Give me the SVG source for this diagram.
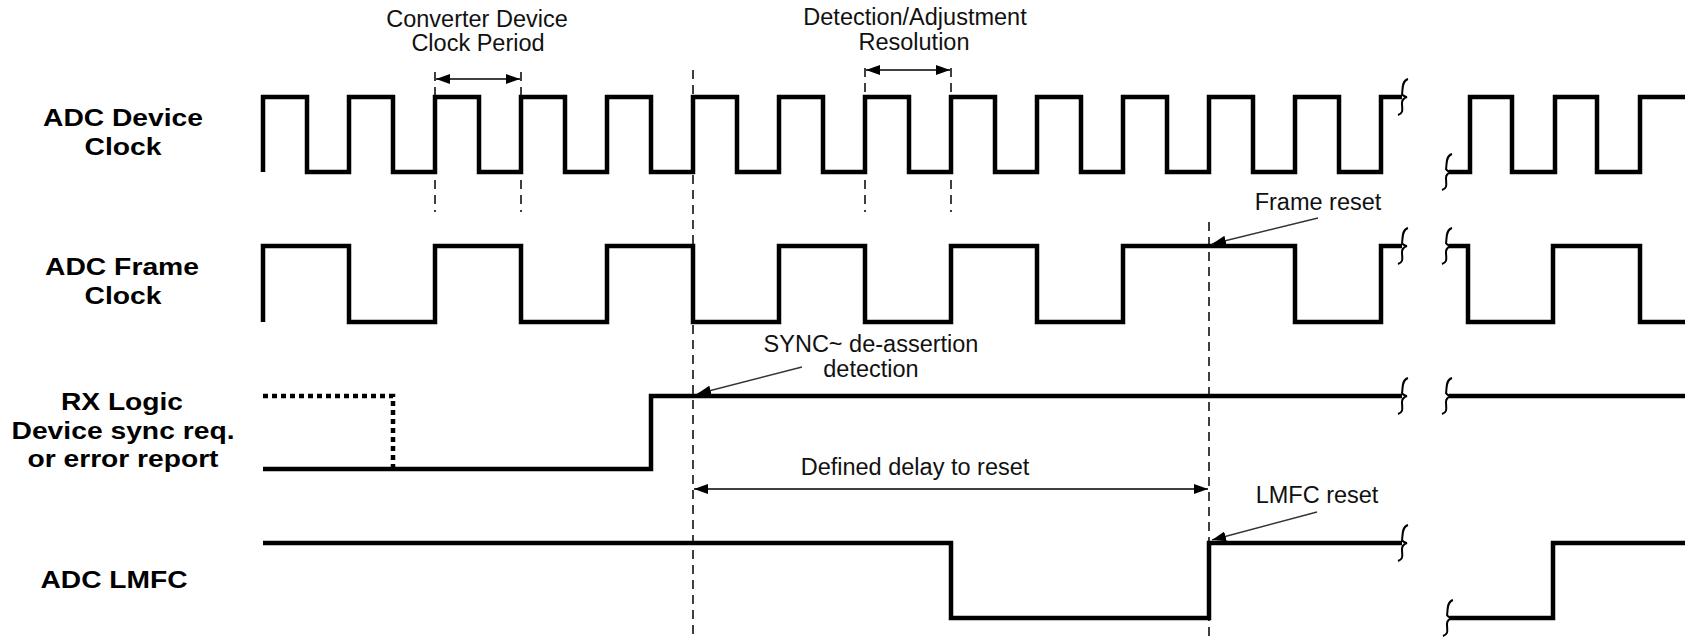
<svg xmlns="http://www.w3.org/2000/svg" width="1694" height="637" viewBox="0 0 1694 637">
<style>
.wave{fill:none;stroke:#000;stroke-width:4.5;stroke-linejoin:miter;stroke-linecap:butt}
.dot{fill:none;stroke:#000;stroke-width:4.5;stroke-dasharray:5 4}
.brk{fill:none;stroke:#000;stroke-width:2}
.dash{fill:none;stroke:#000;stroke-width:1.5;stroke-dasharray:9 6}
.dim{fill:none;stroke:#000;stroke-width:1.5}
.ptr{fill:none;stroke:#333;stroke-width:1.3}
.lbl{font-family:"Liberation Sans",Arial,sans-serif;font-weight:bold;font-size:23.5px;fill:#000;text-anchor:middle}
.ann{font-family:"Liberation Sans",Arial,sans-serif;font-size:23.5px;fill:#111;text-anchor:middle}
</style>
<defs>
<marker id="ah" markerUnits="userSpaceOnUse" markerWidth="14" markerHeight="10" refX="14" refY="5" orient="auto-start-reverse">
<path d="M0,0 L14,5 L0,10 z" fill="#000"/>
</marker>
<path id="brace" d="M5,-18 C-2,-16 0,-6 -1,-3 C0,-1 3,0 4,0 C1,1 -1,3 -1,6 C-1,12 1,16 -5,18"/>
</defs>

<g id="labels">
<g id="label-device-clock"><text class="lbl" x="123" y="126" textLength="160" lengthAdjust="spacingAndGlyphs">ADC Device</text><text class="lbl" x="123" y="155" textLength="77" lengthAdjust="spacingAndGlyphs">Clock</text></g>
<g id="label-frame-clock"><text class="lbl" x="122" y="275" textLength="154" lengthAdjust="spacingAndGlyphs">ADC Frame</text><text class="lbl" x="123" y="304" textLength="77" lengthAdjust="spacingAndGlyphs">Clock</text></g>
<g id="label-rx"><text class="lbl" x="122" y="410" textLength="122" lengthAdjust="spacingAndGlyphs">RX Logic</text><text class="lbl" x="123" y="439" textLength="223" lengthAdjust="spacingAndGlyphs">Device sync req.</text><text class="lbl" x="123" y="467" textLength="191" lengthAdjust="spacingAndGlyphs">or error report</text></g>
<g id="label-lmfc"><text class="lbl" x="114" y="588" textLength="147" lengthAdjust="spacingAndGlyphs">ADC LMFC</text></g>
</g>

<g id="device-clock">
<path class="wave" d="M263,172 V97 H307 V172 H349 V97 H393 V172 H435 V97 H479 V172 H521 V97 H565 V172 H607 V97 H651 V172 H693 V97 H737 V172 H779 V97 H823 V172 H865 V97 H909 V172 H951 V97 H995 V172 H1037 V97 H1081 V172 H1123 V97 H1167 V172 H1209 V97 H1253 V172 H1295 V97 H1339 V172 H1381 V97 H1402"/>
<path class="wave" d="M1449,172 H1470 V97 H1512 V172 H1555 V97 H1597 V172 H1640 V97 H1685"/>
<use href="#brace" class="brk" transform="translate(1403,97)"/>
<use href="#brace" class="brk" transform="translate(1447,172)"/>
</g>

<g id="frame-clock">
<path class="wave" d="M263,322 V246 H349 V322 H435 V246 H521 V322 H607 V246 H693 V322 H779 V246 H865 V322 H951 V246 H1037 V322 H1123 V246 H1295 V322 H1381 V246 H1402"/>
<path class="wave" d="M1449,246 H1468 V322 H1553 V246 H1640 V322 H1685"/>
<use href="#brace" class="brk" transform="translate(1403,246)"/>
<use href="#brace" class="brk" transform="translate(1447,246)"/>
</g>

<g id="rx-logic">
<path class="dot" d="M263,396 H393 V469"/>
<path class="wave" d="M263,469 H651 V396 H1402"/>
<path class="wave" d="M1449,396 H1685"/>
<use href="#brace" class="brk" transform="translate(1403,396)"/>
<use href="#brace" class="brk" transform="translate(1447,396)"/>
</g>

<g id="lmfc">
<path class="wave" d="M263,543 H951 V618 H1209 V543 H1402"/>
<path class="wave" d="M1450,618 H1553 V543 H1685"/>
<use href="#brace" class="brk" transform="translate(1403,543)"/>
<use href="#brace" class="brk" transform="translate(1448,618)"/>
</g>

<g id="annotations">
<g id="ann-converter"><text class="ann" x="477" y="27">Converter Device</text><text class="ann" x="478" y="51">Clock Period</text></g>
<g id="ann-detection"><text class="ann" x="915" y="25">Detection/Adjustment</text><text class="ann" x="914" y="50">Resolution</text></g>
<g id="ann-frame-reset"><text class="ann" x="1318" y="210">Frame reset</text></g>
<g id="ann-sync"><text class="ann" x="871" y="352">SYNC~ de-assertion</text><text class="ann" x="871" y="377">detection</text></g>
<g id="ann-delay"><text class="ann" x="915" y="475">Defined delay to reset</text></g>
<g id="ann-lmfc-reset"><text class="ann" x="1317" y="503">LMFC reset</text></g>
</g>

<g id="connectors">
<path class="dash" d="M435,72 V97 M521,72 V97 M435,180 V212 M521,180 V212"/>
<path class="dash" d="M865,68 V97 M951,68 V97 M865,180 V212 M951,180 V212"/>
<path class="dash" d="M693,70 V637"/>
<path class="dash" d="M1209,222 V637"/>
<path class="dim" d="M436,79 H520" marker-start="url(#ah)" marker-end="url(#ah)"/>
<path class="dim" d="M866,70 H950" marker-start="url(#ah)" marker-end="url(#ah)"/>
<path class="dim" d="M694,489 H1208" marker-start="url(#ah)" marker-end="url(#ah)"/>
<path class="ptr" d="M1318,218 L1212,244" marker-end="url(#ah)"/>
<path class="ptr" d="M802,367 L697,394" marker-end="url(#ah)"/>
<path class="ptr" d="M1317,512 L1212,540" marker-end="url(#ah)"/>
</g>
</svg>
